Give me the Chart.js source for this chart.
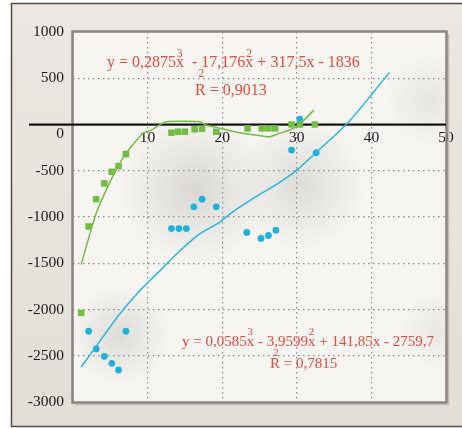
<!DOCTYPE html>
<html>
<head>
<meta charset="utf-8">
<script src="https://cdn.jsdelivr.net/npm/chart.js@4.4.1/dist/chart.umd.min.js"></script>
<style>
  html, body { margin: 0; padding: 0; background: #fff; }
  #wrap { width: 462px; height: 428px; }
</style>
</head>
<body>
<div id="wrap"><canvas id="trendChart" width="462" height="428"></canvas></div>
<script>
const greenX = [1.1, 2.1, 3.1, 4.2, 5.2, 6.1, 7.1, 13.2, 14.1, 15, 16.3, 17.3, 19.2, 23.4, 25.3, 26.2, 27.1, 29.3, 30.4, 32.4];
const greenY = [-2037, -1102, -807, -637, -511, -450, -320, -89, -78, -78, -52, -46, -78, -42, -42, -42, -42, 0, 0, 0];

const blueX = [2.1, 3.1, 4.2, 5.2, 6.1, 7.1, 13.2, 14.2, 15.2, 16.2, 17.3, 19.2, 23.3, 25.2, 26.2, 27.2, 29.3, 30.4, 32.6];
const blueY = [-2235, -2426, -2506, -2582, -2654, -2235, -1125, -1125, -1125, -890, -807, -890, -1167, -1232, -1200, -1142, -277, 59, -305];

// trend lines (polynomial fits as drawn)
const greenFitX = [1.1, 3.1, 5.3, 7.1, 9.4, 10.5, 11.6, 12.5, 17, 17.8, 19.2, 22.3, 24.5, 26.3, 27.7, 29, 30.1, 31.2, 32.3];
const greenFitY = [-1512, -963, -566, -312, -95, -60, -5, 30, 30, -5, -31, -89, -114, -133, -96, -60, -17, 66, 156];

const blueFitX = [1.1, 3.6, 6.2, 8.9, 11.6, 14.3, 16.9, 19.6, 21.1, 23.8, 27.8, 30, 32.7, 35.4, 37.2, 39.8, 42.4];
const blueFitY = [-2621, -2344, -2054, -1802, -1585, -1368, -1187, -1060, -963, -818, -620, -493, -295, -95, 49, 301, 561];

const xTickValues = [10, 20, 30, 40, 50];
const yTickValues = [1000, 500, 0, -500, -1000, -1500, -2000, -2500, -3000];

const greenEq = [['y = 0,2875x'], ['3', true], ['  - 17,176x'], ['2', true], [' + 317,5x - 1836']];
const greenR2 = [['R'], ['2', true], [' = 0,9013']];
const blueEq = [['y = 0,0585x'], ['3', true], [' - 3,9599x'], ['2', true], [' + 141,85x - 2759,7']];
const blueR2 = [['R'], ['2', true], [' = 0,7815']];

const pointsOf = (xs, ys) => xs.map((x, i) => ({ x: x, y: ys[i] }));

const serif = 'Liberation Serif, DejaVu Serif, serif';
const gridColor = '#8c8c8c';

function blob(ctx, x, y, r, color) {
    const g = ctx.createRadialGradient(x, y, 0, x, y, r);
    g.addColorStop(0, color);
    g.addColorStop(1, 'rgba(160,155,150,0)');
    ctx.fillStyle = g;
    ctx.fillRect(x - r, y - r, r * 2, r * 2);
}

const backdrop = {
    id: 'backdrop',
    beforeDraw(chart) {
        const { ctx, chartArea: a, width, height } = chart;
        ctx.save();
        ctx.fillStyle = '#fff';
        ctx.fillRect(0, 0, width, height);
        const g = ctx.createLinearGradient(0, 0, 0, height);
        g.addColorStop(0, '#ebe8e3');
        g.addColorStop(1, '#e2ded7');
        ctx.fillStyle = g;
        ctx.fillRect(11, 3, width, 424);
        ctx.strokeStyle = '#4f4c4a';
        ctx.lineWidth = 1.5;
        ctx.strokeRect(11.5, 3.5, width + 10, 423);

        // plot area with soft shading
        ctx.fillStyle = '#f6f5f2';
        ctx.fillRect(a.left, a.top, a.width, a.height);
        ctx.beginPath();
        ctx.rect(a.left, a.top, a.width, a.height);
        ctx.clip();
        blob(ctx, 195, 190, 75, 'rgba(160,155,150,0.33)');
        blob(ctx, 300, 185, 65, 'rgba(160,155,150,0.28)');
        blob(ctx, 120, 335, 50, 'rgba(160,155,150,0.28)');
        blob(ctx, 430, 100, 45, 'rgba(160,155,150,0.18)');
        blob(ctx, 440, 330, 40, 'rgba(170,165,160,0.18)');
        ctx.restore();
    },
    beforeDatasetsDraw(chart) {
        const { ctx, chartArea: a, scales } = chart;
        const y0 = scales.y.getPixelForValue(0);
        ctx.save();
        // plot frame with a soft shadow
        ctx.strokeStyle = '#c2bcb6';
        ctx.lineWidth = 1.5;
        ctx.beginPath();
        ctx.moveTo(a.right + 2.5, a.top + 2);
        ctx.lineTo(a.right + 2.5, a.bottom + 2.5);
        ctx.lineTo(a.left + 2, a.bottom + 2.5);
        ctx.stroke();
        ctx.strokeStyle = '#8b8380';
        ctx.lineWidth = 2.5;
        ctx.strokeRect(a.left - 0.5, a.top - 0.5, a.width + 1, a.height + 1);
        // zero line
        ctx.fillStyle = '#111';
        ctx.fillRect(29, y0 - 1, a.right - 29, 2.2);
        // zero label sits below the line
        ctx.font = '15.5px ' + serif;
        ctx.fillStyle = '#1a1a1a';
        ctx.textAlign = 'right';
        ctx.textBaseline = 'middle';
        ctx.fillText('0', a.left - 9, y0 + 9);
        ctx.restore();
    },
    afterDraw(chart) {
        const { ctx } = chart;
        ctx.save();
        ctx.fillStyle = '#ea4a3e';
        ctx.textBaseline = 'alphabetic';
        ctx.textAlign = 'left';
        // superscripts sit over the end of the previous glyph
        const drawEq = (parts, x, y, size, raise) => {
            let cx = x;
            parts.forEach(p => {
                if (p[1]) {
                    ctx.font = (size * 0.72) + 'px ' + serif;
                    ctx.fillText(p[0], cx - size * 0.45, y - raise);
                } else {
                    ctx.font = size + 'px ' + serif;
                    ctx.fillText(p[0], cx, y);
                    cx += ctx.measureText(p[0]).width;
                }
            });
        };
        drawEq(greenEq, 107, 67, 16, 10.5);
        drawEq(greenR2, 195, 95, 16, 18);
        drawEq(blueEq, 182, 346, 15, 11);
        drawEq(blueR2, 270, 368, 15, 12);
        ctx.restore();
    }
};

new Chart(document.getElementById('trendChart'), {
    type: 'scatter',
    data: {
        datasets: [
            {
                data: pointsOf(greenFitX, greenFitY),
                showLine: true,
                borderColor: '#76bd45',
                borderWidth: 1.5,
                pointRadius: 0,
                tension: 0.2
            },
            {
                data: pointsOf(blueFitX, blueFitY),
                showLine: true,
                borderColor: '#26b6de',
                borderWidth: 1.5,
                pointRadius: 0,
                tension: 0.2
            },
            {
                data: pointsOf(greenX, greenY),
                pointStyle: 'rect',
                pointRadius: 4.6,
                backgroundColor: '#74bd43',
                borderWidth: 0
            },
            {
                data: pointsOf(blueX, blueY),
                pointStyle: 'circle',
                pointRadius: 3.4,
                backgroundColor: '#1fb2de',
                borderWidth: 0
            }
        ]
    },
    options: {
        responsive: false,
        animation: false,
        devicePixelRatio: 1,
        layout: {
            padding: { top: 32, right: 16, bottom: 26, left: 0 }
        },
        plugins: {
            legend: { display: false },
            tooltip: { enabled: false }
        },
        scales: {
            x: {
                type: 'linear',
                position: { y: 0 },
                min: 0,
                max: 50,
                afterBuildTicks: s => { s.ticks = xTickValues.map(v => ({ value: v })); },
                grid: {
                    color: c => (c.tick && c.tick.value === 50) ? 'rgba(0,0,0,0)' : gridColor,
                    lineWidth: 1.2,
                    drawTicks: false
                },
                border: { display: false, dash: [1.5, 3.5] },
                ticks: {
                    padding: 4,
                    color: '#1a1a1a',
                    maxRotation: 0,
                    autoSkip: false,
                    font: { family: serif, size: 15.5 }
                }
            },
            y: {
                min: -3000,
                max: 1000,
                afterBuildTicks: s => { s.ticks = yTickValues.map(v => ({ value: v })); },
                afterFit: s => { s.width = 73; },
                grid: {
                    color: c => (c.tick && [1000, 0, -3000].includes(c.tick.value)) ? 'rgba(0,0,0,0)' : gridColor,
                    lineWidth: 1.2,
                    drawTicks: false
                },
                border: { display: false, dash: [1.5, 3.5] },
                ticks: {
                    padding: 9,
                    color: '#1a1a1a',
                    autoSkip: false,
                    font: { family: serif, size: 15.5 },
                    callback: v => v === 0 ? '' : v
                }
            }
        }
    },
    plugins: [backdrop]
});
</script>
</body>
</html>
